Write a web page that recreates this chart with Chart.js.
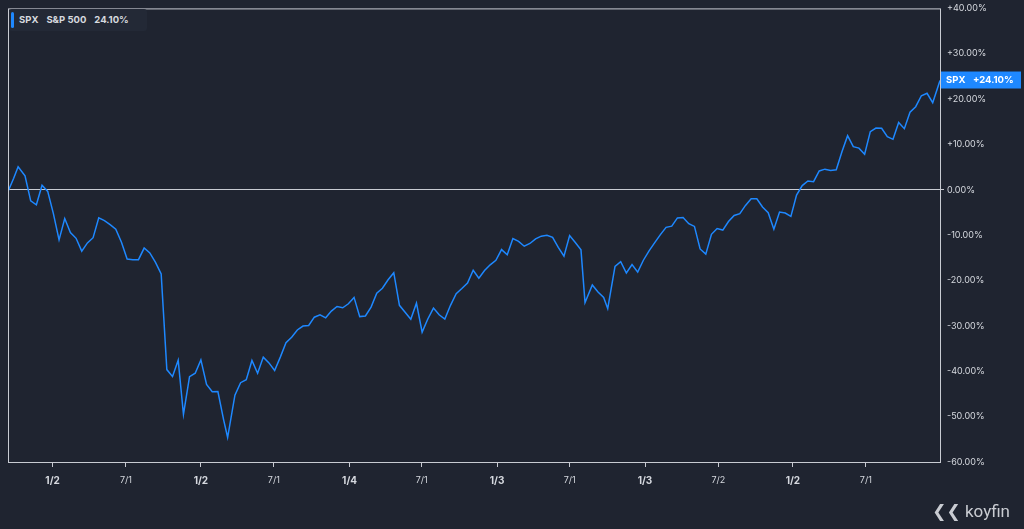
<!DOCTYPE html>
<html>
<head>
<meta charset="utf-8">
<script src="https://cdn.jsdelivr.net/npm/chart.js@4.4.1/dist/chart.umd.min.js"></script>
<style>
  html, body { margin: 0; padding: 0; background: #1f2430; overflow: hidden; }
  #wrap { position: relative; width: 1024px; height: 529px; }
  #legend { position: absolute; left: 9px; top: 9px; height: 22px; padding: 0 10px 0 10px; border-radius: 3px;
    background: #232936; color: #d6d9df; font: bold 9.5px Inter, "DejaVu Sans", sans-serif; line-height: 22px; }
  #legend:before { content: ""; position: absolute; left: 2px; top: 3px; width: 3px; height: 16px; background: #1e88ff; border-radius: 2px; }
  #legend span { margin-right: 8px; }
  #logo { position: absolute; right: 14px; bottom: 8px; color: #c9ccd2; font: 17px Roboto, "DejaVu Sans", sans-serif; }
</style>
</head>
<body>
<div id="wrap">
  <canvas id="c" width="1024" height="529"></canvas>
  <div id="legend"><span>SPX</span><span>S&amp;P 500</span><span>24.10%</span></div>
  <div id="logo">&#10094;&#10094; koyfin</div>
</div>
<script>
// S&P 500 closes, roughly every two weeks
const dates = [
  '2007-09-14','2007-09-28','2007-10-09','2007-10-26','2007-11-09','2007-11-23','2007-12-07','2007-12-21',
  '2008-01-04','2008-01-18','2008-02-01','2008-02-15','2008-02-29','2008-03-14','2008-03-28','2008-04-11','2008-04-25','2008-05-09','2008-05-23','2008-06-06','2008-06-20','2008-07-04','2008-07-18','2008-08-01','2008-08-15','2008-08-29','2008-09-12','2008-09-26','2008-10-10','2008-10-24','2008-11-07','2008-11-20','2008-12-05','2008-12-19',
  '2009-01-02','2009-01-16','2009-01-30','2009-02-13','2009-02-27','2009-03-09','2009-03-27','2009-04-10','2009-04-24','2009-05-08','2009-05-22','2009-06-05','2009-06-19','2009-07-03','2009-07-17','2009-07-31','2009-08-14','2009-08-28','2009-09-11','2009-09-25','2009-10-09','2009-10-23','2009-11-06','2009-11-20','2009-12-04','2009-12-18',
  '2010-01-01','2010-01-15','2010-01-29','2010-02-12','2010-02-26','2010-03-12','2010-03-26','2010-04-09','2010-04-23','2010-05-07','2010-05-21','2010-06-04','2010-06-18','2010-07-02','2010-07-16','2010-07-30','2010-08-13','2010-08-27','2010-09-10','2010-09-24','2010-10-08','2010-10-22','2010-11-05','2010-11-19','2010-12-03','2010-12-17',
  '2010-12-31','2011-01-14','2011-01-28','2011-02-11','2011-02-25','2011-03-11','2011-03-25','2011-04-08','2011-04-22','2011-05-06','2011-05-20','2011-06-03','2011-06-17','2011-07-01','2011-07-15','2011-07-29','2011-08-08','2011-08-26','2011-09-09','2011-09-23','2011-10-03','2011-10-21','2011-11-04','2011-11-18','2011-12-02','2011-12-16',
  '2011-12-30','2012-01-13','2012-01-27','2012-02-10','2012-02-24','2012-03-09','2012-03-23','2012-04-06','2012-04-20','2012-05-04','2012-05-18','2012-06-01','2012-06-15','2012-06-29','2012-07-13','2012-07-27','2012-08-10','2012-08-24','2012-09-07','2012-09-21','2012-10-05','2012-10-19','2012-11-02','2012-11-16','2012-11-30','2012-12-14','2012-12-28',
  '2013-01-11','2013-01-25','2013-02-08','2013-02-22','2013-03-08','2013-03-22','2013-04-05','2013-04-19','2013-05-03','2013-05-17','2013-05-31','2013-06-14','2013-06-28','2013-07-12','2013-07-26','2013-08-09','2013-08-23','2013-09-06','2013-09-20','2013-10-04','2013-10-18','2013-11-01','2013-11-15','2013-11-29','2013-12-13','2013-12-31'
];
const closes = [
  1484,1527,1565,1535,1453,1440,1504,1484,
  1411,1325,1395,1349,1330,1288,1315,1332,1397,1388,1375,1360,1317,1262,1260,1260,1298,1282,1251,1213,899,876,930,752,876,887,
  931,850,826,827,735,676,815,856,866,929,887,940,921,896,940,987,1005,1029,1042,1044,1071,1079,1069,1091,1106,1102,
  1115,1136,1073,1075,1104,1150,1166,1194,1217,1110,1087,1064,1117,1022,1065,1101,1079,1065,1110,1148,1165,1183,1225,1199,1224,1243,
  1258,1293,1276,1329,1320,1304,1313,1328,1337,1340,1333,1300,1271,1339,1316,1292,1119,1177,1154,1136,1099,1238,1253,1216,1244,1219,
  1258,1289,1316,1342,1366,1370,1397,1398,1378,1369,1295,1278,1343,1362,1357,1385,1405,1411,1438,1460,1460,1433,1414,1360,1416,1413,1402,
  1472,1503,1518,1516,1551,1557,1553,1555,1614,1667,1631,1626,1606,1680,1692,1691,1664,1655,1710,1690,1744,1762,1798,1806,1775,1848
];
const basePrice = 1489.1;
const tickDates = ['2008-01-02','2008-07-01','2009-01-02','2009-07-01','2010-01-04','2010-07-01','2011-01-03','2011-07-01','2012-01-03','2012-07-02','2013-01-02','2013-07-01'];
const tickLabels = ['1/2','7/1','1/2','7/1','1/4','7/1','1/3','7/1','1/3','7/2','1/2','7/1'];
const yTicks = [40, 30, 20, 10, 0, -10, -20, -30, -40, -50, -60];

const day = d => new Date(d + 'T00:00:00Z').getTime() / 86400000;
const points = dates.map((d, i) => ({ x: day(d), y: (closes[i] / basePrice - 1) * 100 }));
const tickX = tickDates.map(day);
const lastPct = points[points.length - 1].y;

const frame = {
  id: 'frame',
  afterDraw(chart) {
    const { ctx, chartArea: a } = chart;
    ctx.save();
    ctx.strokeStyle = '#c8cbd2';
    ctx.lineWidth = 1;
    ctx.strokeRect(a.left + 0.5, a.top + 0.5, a.right - a.left, a.bottom - a.top);
    // last value badge
    const y = chart.scales.y.getPixelForValue(lastPct);
    ctx.fillStyle = '#1e88ff';
    ctx.fillRect(a.right + 1, y - 9, 80, 17);
    ctx.fillStyle = '#ffffff';
    ctx.font = 'bold 9.5px Inter, "DejaVu Sans", sans-serif';
    ctx.textBaseline = 'middle';
    ctx.fillText('SPX', a.right + 6, y);
    ctx.fillText('+' + lastPct.toFixed(2) + '%', a.right + 33, y);
    ctx.restore();
  }
};

new Chart(document.getElementById('c'), {
  type: 'line',
  data: { datasets: [{ data: points, borderColor: '#1e88ff', borderWidth: 1.5, pointRadius: 0, tension: 0 }] },
  options: {
    responsive: false,
    animation: false,
    layout: { padding: { left: 8, top: 7, bottom: 34, right: 0 } },
    plugins: { legend: { display: false }, tooltip: { enabled: false } },
    scales: {
      x: {
        type: 'linear',
        min: day('2007-09-14'),
        max: day('2013-12-31'),
        afterBuildTicks: s => { s.ticks = tickX.map(v => ({ value: v })); },
        grid: { display: true, drawOnChartArea: false, color: '#c8cbd2', tickLength: 5 },
        border: { display: false },
        ticks: {
          autoSkip: false, maxRotation: 0, color: '#d6d9df', padding: 8,
          callback: (v, i) => tickLabels[i],
          font: c => ({ family: 'Inter, "DejaVu Sans", sans-serif', size: tickLabels[c.index] && tickLabels[c.index].startsWith('1/') ? 10 : 9, weight: tickLabels[c.index] && tickLabels[c.index].startsWith('1/') ? 'bold' : 'normal' })
        }
      },
      y: {
        position: 'right',
        min: -60, max: 40,
        afterBuildTicks: s => { s.ticks = yTicks.map(v => ({ value: v })); },
        afterFit: s => { s.width = 84; },
        grid: { color: c => c.tick && c.tick.value === 0 ? '#c8cbd2' : 'rgba(0,0,0,0)', tickLength: 4, drawTicks: true },
        border: { display: false },
        ticks: {
          color: '#d6d9df', padding: 3,
          font: { family: 'Inter, "DejaVu Sans", sans-serif', size: 9 },
          callback: v => (v > 0 ? '+' : '') + v.toFixed(2) + '%'
        }
      }
    }
  },
  plugins: [frame]
});
</script>
</body>
</html>
